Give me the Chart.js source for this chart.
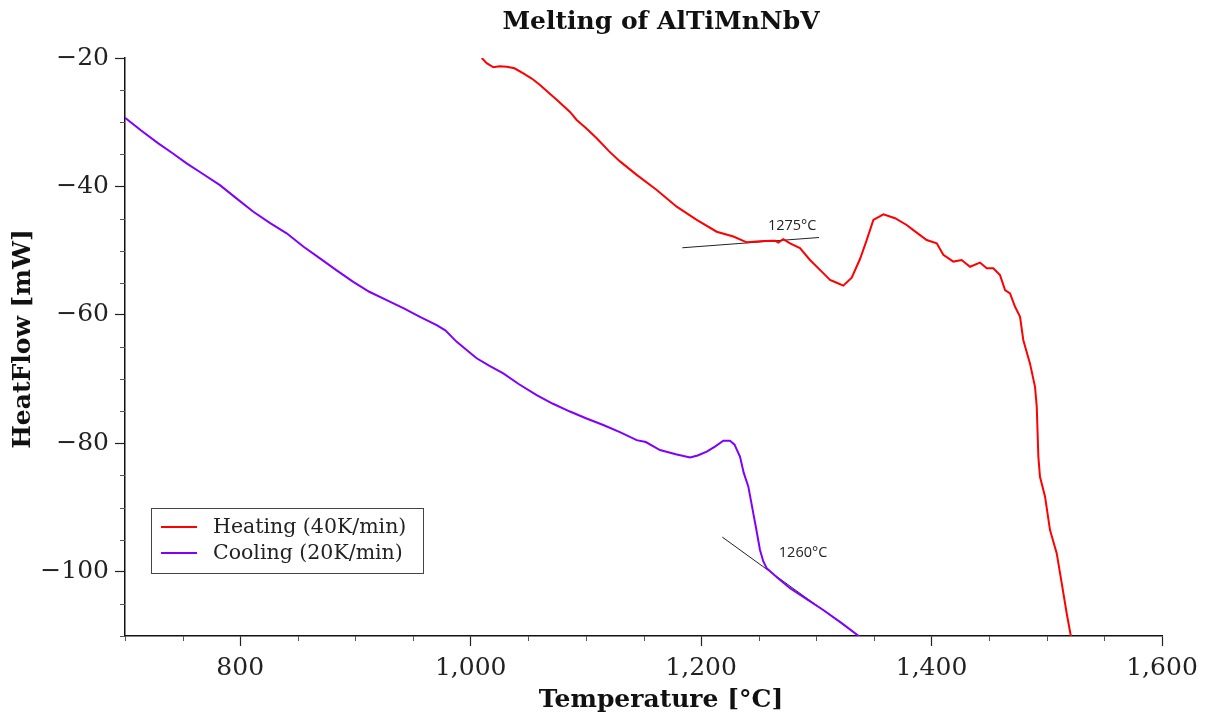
<!DOCTYPE html>
<html>
<head>
<meta charset="utf-8">
<title>Melting of AlTiMnNbV</title>
<script src="https://cdn.jsdelivr.net/npm/chart.js@4.4.1/dist/chart.umd.min.js"></script>
<style>
  html, body { margin: 0; padding: 0; background: #fff; }
  canvas { display: block; }
</style>
</head>
<body>
<canvas id="chartCanvas" width="1205" height="717"></canvas>
<script>
// heating run (40K/min)
const heatingT = [1009.6, 1013.9, 1019.7, 1025, 1031.3, 1038, 1045.7, 1053, 1060.2, 1067, 1074.7, 1086.2, 1092, 1100,
    1109.4, 1120, 1129.6, 1144.1, 1161.5, 1178.8, 1196.2, 1213.5, 1228, 1239.6, 1254, 1264.1, 1267, 1271.3, 1277.2,
    1285.8, 1294.5, 1306, 1311.9, 1317.7, 1323.4, 1330.7, 1337.9, 1343.7, 1349.5, 1358.2, 1368.3, 1378.4, 1384.2,
    1395.8, 1404.5, 1410.2, 1418.9, 1426.1, 1433.4, 1442, 1447.9, 1453.6, 1459.4, 1463.8, 1468.1, 1472.4, 1476.8,
    1479.6, 1485.4, 1489.8, 1491.3, 1492.7, 1494.1, 1498.5, 1502.8, 1508.6, 1513, 1517.3, 1521.2];
const heatingHF = [-20.0, -20.8, -21.45, -21.3, -21.35, -21.6, -22.4, -23.2, -24.2, -25.3, -26.5, -28.4, -29.65, -30.9,
    -32.5, -34.5, -36.1, -38.2, -40.55, -43.15, -45.2, -47.05, -47.8, -48.7, -48.5, -48.45, -48.75, -48.2, -48.85,
    -49.6, -51.45, -53.5, -54.55, -55.0, -55.45, -54.2, -51.3, -48.35, -45.2, -44.35, -44.95, -46.0, -46.8,
    -48.35, -48.85, -50.65, -51.7, -51.45, -52.5, -51.85, -52.75, -52.75, -53.8, -56.15, -56.65, -58.7, -60.3,
    -63.9, -67.55, -71.2, -74.3, -82.1, -85.2, -88.3, -93.5, -97.1, -101.8, -106.5, -110.3];

// cooling run (20K/min)
const coolingT = [700, 714, 728.9, 741, 753.5, 768, 782.4, 797, 811.4, 826, 840.3, 855, 869.2, 884, 898.1, 912, 927.1,
    942, 956, 970.5, 978, 987.9, 996, 1005.2, 1016, 1028.3, 1042, 1057.3, 1071, 1086.2, 1100, 1115.1, 1130, 1144.1,
    1152, 1164.3, 1178, 1190.4, 1197, 1204.9, 1212, 1219.3, 1225.1, 1229, 1233.8, 1237, 1241, 1245.3, 1248, 1251.1,
    1254, 1256.9, 1266, 1277.2, 1292, 1306, 1322, 1338.2];
const coolingHF = [-29.3, -31.3, -33.3, -34.8, -36.4, -38.1, -39.8, -41.9, -43.95, -45.7, -47.3, -49.4, -51.2, -53.1,
    -54.85, -56.4, -57.7, -59.0, -60.3, -61.6, -62.4, -64.2, -65.4, -66.75, -67.9, -69.1, -70.8, -72.5, -73.8, -75.05,
    -76.1, -77.15, -78.3, -79.5, -79.8, -81.05, -81.7, -82.2, -81.9, -81.3, -80.5, -79.6, -79.6, -80.2, -82.1, -84.6,
    -86.75, -90.9, -93.5, -96.6, -98.4, -99.45, -100.9, -102.55, -104.3, -105.95, -108.0, -110.2];

// onset tangents
const heatTangentT = [1183.7, 1302.3];
const heatTangentHF = [-49.55, -47.95];
const coolTangentT = [1218.4, 1338.5];
const coolTangentHF = [-94.6, -110.2];

// onset labels
const onsetText = ['1275°C', '1260°C'];
const onsetT = [1279, 1288.5];
const onsetHF = [-46.2, -97.1];

const seriesLabels = ['Heating (40K/min)', 'Cooling (20K/min)'];
const seriesColors = ['#ff0000', '#7f00ff'];

const xTickLabels = [800, 1000, 1200, 1400, 1600];
const yTickLabels = [-20, -40, -60, -80, -100];

const chartTitle = 'Melting of AlTiMnNbV';
const xTitle = 'Temperature [°C]';
const yTitle = 'HeatFlow [mW]';

const SERIF = "'DejaVu Serif', serif";

function toPoints(xs, ys) {
    return xs.map((x, i) => ({ x: x, y: ys[i] }));
}

// titles, legend box, onset labels and short minor ticks
const decorPlugin = {
    id: 'decor',
    afterDraw(chart) {
        const ctx = chart.ctx;
        const xs = chart.scales.x;
        const ys = chart.scales.y;
        const area = chart.chartArea;
        ctx.save();

        // minor ticks
        ctx.strokeStyle = '#555';
        ctx.lineWidth = 1;
        xs.ticks.forEach(t => {
            if (xTickLabels.includes(t.value)) return;
            const px = Math.round(xs.getPixelForValue(t.value)) + 0.5;
            ctx.beginPath();
            ctx.moveTo(px, area.bottom);
            ctx.lineTo(px, area.bottom + 5);
            ctx.stroke();
        });
        ys.ticks.forEach(t => {
            if (yTickLabels.includes(t.value)) return;
            const py = Math.round(ys.getPixelForValue(t.value)) + 0.5;
            ctx.beginPath();
            ctx.moveTo(area.left, py);
            ctx.lineTo(area.left - 5, py);
            ctx.stroke();
        });

        // onset labels
        ctx.fillStyle = '#222';
        ctx.font = "14.5px 'Open Sans', sans-serif";
        ctx.textAlign = 'center';
        ctx.textBaseline = 'middle';
        onsetText.forEach((s, i) => {
            ctx.fillText(s, xs.getPixelForValue(onsetT[i]), ys.getPixelForValue(onsetHF[i]));
        });

        // titles
        ctx.fillStyle = '#111';
        ctx.font = 'bold 25px ' + SERIF;
        ctx.fillText(chartTitle, 661, 22);
        ctx.fillText(xTitle, 661, 700);
        ctx.save();
        ctx.translate(23, 339);
        ctx.rotate(-Math.PI / 2);
        ctx.fillText(yTitle, 0, 0);
        ctx.restore();

        // legend
        ctx.strokeStyle = '#444';
        ctx.lineWidth = 1;
        ctx.strokeRect(151.5, 508.5, 272, 65);
        ctx.font = '20.5px ' + SERIF;
        ctx.textAlign = 'left';
        seriesLabels.forEach((s, i) => {
            const y = 527 + i * 26;
            ctx.strokeStyle = seriesColors[i];
            ctx.lineWidth = 2;
            ctx.beginPath();
            ctx.moveTo(161, y);
            ctx.lineTo(197, y);
            ctx.stroke();
            ctx.fillStyle = '#222';
            ctx.fillText(s, 213, y + 1);
        });

        ctx.restore();
    }
};

const ctx = document.getElementById('chartCanvas').getContext('2d');

new Chart(ctx, {
    type: 'scatter',
    data: {
        datasets: [
            {
                label: seriesLabels[0],
                data: toPoints(heatingT, heatingHF),
                borderColor: seriesColors[0],
                borderWidth: 2,
                showLine: true,
                pointRadius: 0
            },
            {
                label: seriesLabels[1],
                data: toPoints(coolingT, coolingHF),
                borderColor: seriesColors[1],
                borderWidth: 2,
                showLine: true,
                pointRadius: 0
            },
            {
                label: 'tangent heating',
                data: toPoints(heatTangentT, heatTangentHF),
                borderColor: '#222',
                borderWidth: 1,
                showLine: true,
                pointRadius: 0
            },
            {
                label: 'tangent cooling',
                data: toPoints(coolTangentT, coolTangentHF),
                borderColor: '#222',
                borderWidth: 1,
                showLine: true,
                pointRadius: 0
            }
        ]
    },
    options: {
        responsive: false,
        animation: false,
        layout: { padding: { top: 58, right: 43, left: 0, bottom: 0 } },
        scales: {
            x: {
                type: 'linear',
                min: 700,
                max: 1600,
                afterFit: scale => { scale.height = 81; },
                border: { display: true, color: '#111', width: 1.5 },
                grid: {
                    drawOnChartArea: false,
                    drawTicks: true,
                    tickLength: 10,
                    tickWidth: 1.2,
                    tickColor: c => xTickLabels.includes(c.tick.value) ? '#222' : 'rgba(0,0,0,0)'
                },
                ticks: {
                    stepSize: 50,
                    autoSkip: false,
                    maxRotation: 0,
                    padding: 7,
                    color: '#222',
                    font: { family: SERIF, size: 25 },
                    callback: v => xTickLabels.includes(v) ? v.toLocaleString('en-US') : ''
                }
            },
            y: {
                type: 'linear',
                min: -110,
                max: -20,
                afterFit: scale => { scale.width = 125; },
                border: { display: true, color: '#111', width: 1.5 },
                grid: {
                    drawOnChartArea: false,
                    drawTicks: true,
                    tickLength: 10,
                    tickWidth: 1.2,
                    tickColor: c => yTickLabels.includes(c.tick.value) ? '#222' : 'rgba(0,0,0,0)'
                },
                ticks: {
                    stepSize: 5,
                    autoSkip: false,
                    padding: 6,
                    color: '#222',
                    font: { family: SERIF, size: 25 },
                    callback: v => yTickLabels.includes(v) ? '\u2212' + Math.abs(v) : ''
                }
            }
        },
        plugins: {
            legend: { display: false },
            tooltip: { enabled: false },
            title: { display: false }
        }
    },
    plugins: [decorPlugin]
});
</script>
</body>
</html>
